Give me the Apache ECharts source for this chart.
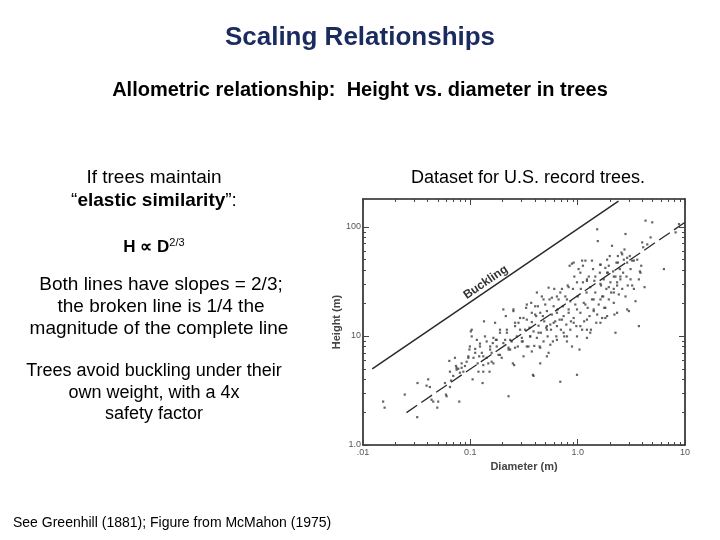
<!DOCTYPE html>
<html><head><meta charset="utf-8">
<script src="https://cdn.jsdelivr.net/npm/echarts@6/dist/echarts.min.js"></script>
<style>html,body{margin:0;padding:0;background:#fff}#c{width:720px;height:540px}</style>
</head><body><div id="c"></div>
<script>
// Tree diameters (m) and heights (m)
const diameters = [
 0.0154,0.0159,0.0245,0.0322,0.032,0.0391,0.0405,0.042,0.0435,0.0451,
 0.0492,0.0502,0.058,0.0593,0.0601,0.0637,0.0646,0.066,0.0693,0.0719,
 0.0735,0.0745,0.0773,0.0789,0.080,0.083,0.0861,0.0891,0.0924,0.0958,
 0.098,0.099,0.101,0.103,0.105,0.107,0.111,0.115,0.117,0.119,
 0.121,0.123,0.128,0.130,0.132,0.134,0.137,0.142,0.147,0.151,
 0.153,0.158,0.162,0.164,0.170,0.173,0.176,0.183,0.189,0.196,
 0.203,0.211,0.214,0.219,0.227,0.235,0.243,0.249,0.252,0.256,
 0.261,0.271,0.277,0.281,0.291,0.302,0.308,0.313,0.324,0.331,
 0.336,0.348,0.356,0.361,0.369,0.374,0.383,0.388,0.394,0.402,
 0.411,0.417,0.426,0.432,0.442,0.448,0.454,0.464,0.474,0.481,
 0.488,0.499,0.509,0.517,0.525,0.536,0.547,0.556,0.564,0.575,
 0.588,0.597,0.605,0.618,0.632,0.641,0.650,0.664,0.679,0.689,
 0.698,0.714,0.729,0.740,0.750,0.767,0.784,0.795,0.807,0.824,
 0.842,0.854,0.866,0.885,0.904,0.918,0.931,0.951,0.972,0.986,
 1.00,1.02,1.04,1.06,1.07,1.10,1.12,1.14,1.15,1.18,
 1.21,1.22,1.24,1.27,1.29,1.31,1.33,1.36,1.39,1.41,
 1.43,1.46,1.49,1.52,1.54,1.57,1.61,1.63,1.65,1.69,
 1.73,1.75,1.77,1.81,1.85,1.88,1.91,1.95,1.99,2.02,
 2.05,2.09,2.14,2.17,2.20,2.25,2.30,2.33,2.37,2.42,
 2.47,2.50,2.56,2.60,2.65,2.69,2.73,2.79,2.85,2.89,
 2.93,3.00,3.06,3.11,3.22,3.34,3.46,3.59,3.72,3.80,
 3.91,3.99,4.08,4.20,4.29,4.45,4.95,4.78,6.36,8.18,
 8.79,0.885,1.10,0.536,0.417,0.336,0.252,0.203,0.176,0.132,
 0.103,0.388,0.517,1.22,1.81,2.25,3.72,2.89,0.795,0.641,
 0.918,0.291,0.235,0.336,0.153,0.0646,1.88,3.11,1.22,1.06,
 0.641,0.448,0.517,0.795,1.63,2.17,1.41,2.50,0.227,
 0.918,1.12,1.36,1.63,1.95,2.37,2.60,2.89,3.22,1.88,
 2.17,1.46,1.22,0.986,0.824,0.689,0.575,0.481,0.402,0.374,
 0.313,0.261,0.219,0.189,0.164,0.142,0.123,0.111,0.0958,0.083,
 0.0745,1.63,1.95,2.33,1.69,1.41,1.18,0.986,0.824,0.714,
 0.597,0.517,0.432,0.361,0.302,0.261,0.227,0.189,0.158,0.132,
 2.17,1.81,1.52,1.22,1.06,0.854,0.740,0.641,0.556,0.448,
 0.374,0.986,1.31,1.63,2.33,2.79,3.34,3.85
];
const heights = [
 2.5,2.2,2.9,3.7,1.8,3.5,4.0,3.4,2.6,2.5,
 2.2,2.5,3.7,2.9,2.8,5.9,4.7,3.9,4.3,6.3,
 5.3,4.9,5.0,2.5,4.6,5.1,4.7,5.3,5.8,6.5,
 7.5,8.0,11.0,9.9,4.0,6.3,7.6,9.2,5.6,4.7,
 6.5,8.5,7.0,3.7,4.7,13.6,9.9,6.3,5.6,4.7,
 8.0,7.0,8.6,5.6,13.2,9.2,8.0,6.7,11.4,6.3,
 8.6,9.2,15.2,10.7,7.8,7.5,8.9,5.6,17.5,5.4,
 12.3,9.9,8.0,13.2,14.6,9.6,8.9,6.5,11.4,18.1,
 14.1,8.0,11.9,9.9,20.1,13.4,4.4,11.0,8.1,15.7,
 15.2,9.6,18.7,12.4,8.0,5.6,10.7,23,15.2,8.9,
 13.6,19.4,11.9,16.9,9.9,7.0,21.6,12.7,11.4,15.7,
 8.9,18.7,27,13.6,9.9,12.3,17.5,21.6,14.1,3.8,
 11.4,27,18.7,15.2,9.9,23,12.7,8.9,29,17.5,
 44,20.8,13.6,8.0,27,14.6,35,19.4,12.3,4.4,
 23,41,7.5,16.3,27,11.4,31,20.1,13.6,49,
 25,9.6,18.1,35,15.2,28,11.4,21.6,41,16.9,
 32,25,13.2,95,74,19.4,38,45,29,14.6,
 23,33,18.1,42,27,15.2,38,21.6,54,31,
 25,67,39,27,15.7,35,47,29,54,24,
 41,33,58,27,38,50,62,86,35,47,
 29,16.9,54,41,29,49,20.8,50,33,39,
 44,72,65,28,114,69,110,80,41,89,
 106,46,49,27.7,25,19.4,16.9,17.5,9.2,6.5,
 11.4,4.3,6.5,11.4,14.6,10.7,12.3,17.5,21.6,16.3,
 13.2,11.4,9.2,8.0,7.5,3.4,50,33,33,38,
 23,16.3,12.3,9.9,21.6,25,17.5,35,2.8,
 47,44,49,45,44,47,56,52,49,38,
 35,35,32,31,28,25,22.4,21.6,18.7,16.3,
 14.6,13.2,11.4,10.7,9.6,8.9,8.0,7.0,6.3,5.6,
 5.1,30,28,31,23,21.6,19.4,17.5,16.3,14.1,
 13.2,11.4,10.7,9.9,8.9,7.8,7.5,6.7,5.8,5.4,
 20.1,18.1,15.7,14.1,12.3,11.4,10.7,9.2,8.3,7.8,
 7.2,9.9,10.7,13.2,16.3,23,27,38
];
// Buckling line (slope 2/3) and the broken line at 1/4 of its magnitude
const bucklingD = [0.0122, 2.4];
const bucklingH = [5.0, 172];
const brokenD = [0.0254, 10];
const brokenH = [1.98, 110];
const bucklingLabelAt = [0.139, 31];

const xRange = [0.01, 10];
const yRange = [1, 180];
const xTickValues = [0.01, 0.1, 1, 10];
const xTickLabels = ['.01', '0.1', '1.0', '10'];
const yTickValues = [1, 10, 100];
const yTickLabels = ['1.0', '10', '100'];
const minorMultipliers = [2, 3, 4, 5, 6, 7, 8, 9];
const xDecades = [0.01, 0.1, 1];
const yDecades = [1, 10, 100];

const xMinor = [];
xDecades.forEach(d => minorMultipliers.forEach(m => xMinor.push(+(d * m).toPrecision(6))));
const yMinor = [];
yDecades.forEach(d => minorMultipliers.forEach(m => { const v = +(d * m).toPrecision(6); if (v < yRange[1]) yMinor.push(v); }));

function lab(vals, labels) {
  return v => {
    for (let i = 0; i < vals.length; i++) if (Math.abs(Math.log10(v) - Math.log10(vals[i])) < 1e-6) return labels[i];
    return '';
  };
}
const FONT = '"Liberation Sans", Arial, sans-serif';
const axisColor = '#222';
const tickLabelStyle = { fontFamily: FONT, fontSize: 9, color: '#555' };

function mkX(pos, minor, showLabel) {
  return {
    type: 'log', logBase: 10, min: xRange[0], max: xRange[1], position: pos, gridIndex: 0,
    axisLine: { show: !minor, onZero: false, lineStyle: { color: axisColor, width: 1.6 } },
    axisTick: { show: true, inside: true, length: minor ? 3 : 6, customValues: minor ? xMinor : xTickValues, lineStyle: { color: '#444', width: 1 } },
    axisLabel: Object.assign({ show: showLabel, customValues: xTickValues, margin: 3, formatter: lab(xTickValues, xTickLabels) }, tickLabelStyle),
    splitLine: { show: false }, minorTick: { show: false },
    name: showLabel ? 'Diameter (m)' : '', nameLocation: 'middle', nameGap: 16,
    nameTextStyle: { fontFamily: FONT, fontSize: 11, fontWeight: 'bold', color: '#444' }
  };
}
function mkY(pos, minor, showLabel) {
  return {
    type: 'log', logBase: 10, min: yRange[0], max: yRange[1], position: pos, gridIndex: 0,
    axisLine: { show: !minor, onZero: false, lineStyle: { color: axisColor, width: 1.6 } },
    axisTick: { show: true, inside: true, length: minor ? 3 : 6, customValues: minor ? yMinor : yTickValues, lineStyle: { color: '#444', width: 1 } },
    axisLabel: Object.assign({ show: showLabel, customValues: yTickValues, margin: 2, formatter: lab(yTickValues, yTickLabels) }, tickLabelStyle),
    splitLine: { show: false }, minorTick: { show: false },
    name: showLabel ? 'Height (m)' : '', nameLocation: 'middle', nameGap: 10,
    nameTextStyle: { fontFamily: FONT, fontSize: 11, fontWeight: 'bold', color: '#444' }
  };
}

const chart = echarts.init(document.getElementById('c'), null, { renderer: 'canvas' });
const scatterData = diameters.map((d, i) => [d, heights[i]]);

const txt = (x, y, text, size, extra) => ({
  type: 'text', x: x, y: y, silent: true,
  style: Object.assign({ text: text, fontFamily: FONT, fontSize: size, fill: '#000', align: 'center', verticalAlign: 'middle' }, extra || {})
});

chart.setOption({
  backgroundColor: '#fff',
  animation: false,
  grid: { left: 363, right: 35, top: 199, bottom: 95 },
  xAxis: [mkX('bottom', false, true), mkX('bottom', true, false), mkX('top', false, false), mkX('top', true, false)],
  yAxis: [mkY('left', false, true), mkY('left', true, false), mkY('right', false, false), mkY('right', true, false)],
  series: [
    { type: 'scatter', data: scatterData, symbol: 'rect', symbolSize: 2.2, itemStyle: { color: '#3d3d3d' }, silent: true },
    { type: 'line', data: bucklingD.map((d, i) => [d, bucklingH[i]]), symbol: 'none', lineStyle: { color: '#2a2a2a', width: 1.5 }, silent: true },
    { type: 'line', data: brokenD.map((d, i) => [d, brokenH[i]]), symbol: 'none', lineStyle: { color: '#2a2a2a', width: 1.3, type: [13, 5] }, silent: true }
  ],
  graphic: [
    txt(360, 38, 'Scaling Relationships', 26, { fontWeight: 'bold', fill: '#1a2b5f' }),
    txt(360, 90, 'Allometric relationship:  Height vs. diameter in trees', 20, { fontWeight: 'bold' }),
    txt(154, 178, 'If trees maintain', 19),
    txt(154, 201, '\u201c{b|elastic similarity}\u201d:', 19, { rich: { b: { fontFamily: FONT, fontSize: 19, fontWeight: 'bold', fill: '#000' } } }),
    txt(154, 247, '{h|H \u221d D}{s|2/3}', 17, { rich: { h: { fontFamily: FONT, fontSize: 17, fontWeight: 'bold', fill: '#000', lineHeight: 20 }, s: { fontFamily: FONT, fontSize: 11, fill: '#000', verticalAlign: 'top', lineHeight: 20 } } }),
    txt(161, 285, 'Both lines have slopes = 2/3;', 19),
    txt(161, 307, 'the broken line is 1/4 the', 19),
    txt(159, 329, 'magnitude of the complete line', 19),
    txt(154, 371, 'Trees avoid buckling under their', 18),
    txt(154, 393, 'own weight, with a 4x', 18),
    txt(154, 414, 'safety factor', 18),
    txt(528, 178, 'Dataset for U.S. record trees.', 18),
    txt(13, 523, 'See Greenhill (1881); Figure from McMahon (1975)', 14, { align: 'left' })
  ]
});

const p = chart.convertToPixel({ xAxisIndex: 0, yAxisIndex: 0 }, bucklingLabelAt);
chart.setOption({
  graphic: [txt(p[0], p[1], 'Buckling', 12, { fill: '#333', fontWeight: 'bold' })].map(g => Object.assign(g, { rotation: 0.6, originX: 0, originY: 0, id: 'buck' }))
});
</script></body></html>
